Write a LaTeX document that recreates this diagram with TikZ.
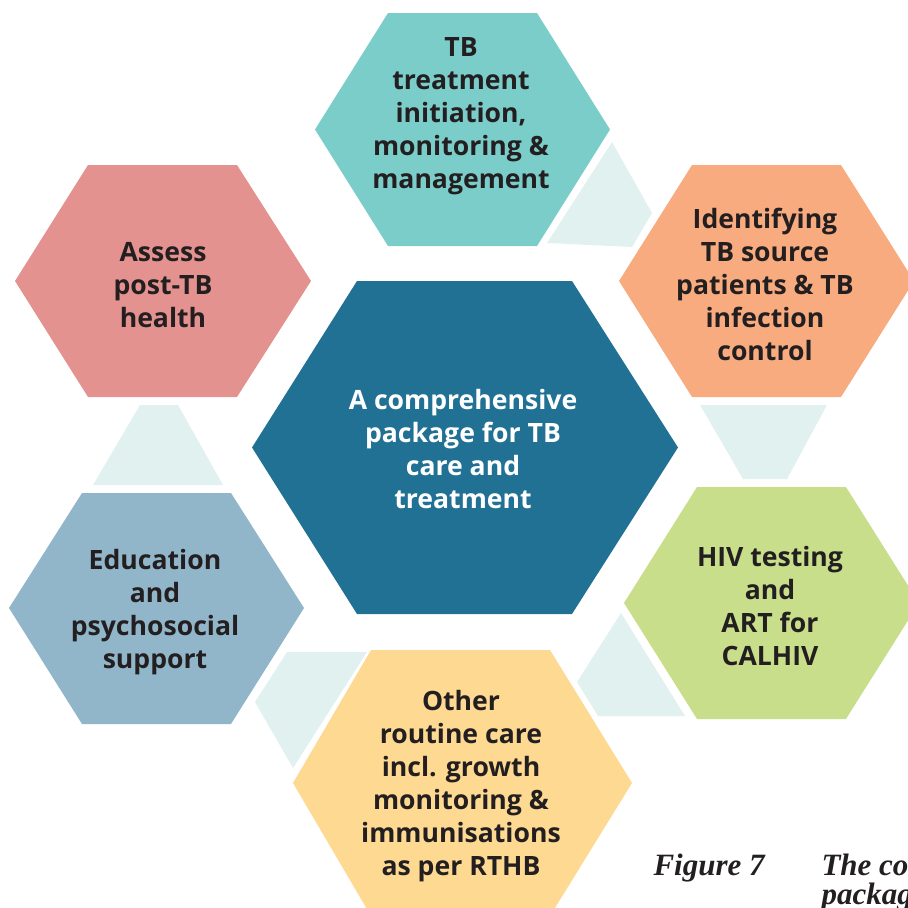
\documentclass[tikz,border=0pt]{standalone}
\usepackage{fontspec}
\newfontfamily\hexfont{Open Sans}
\newfontfamily\capfont{Liberation Serif}

\definecolor{tealhex}{HTML}{7BCDC9}
\definecolor{orangehex}{HTML}{F7AB7F}
\definecolor{greenhex}{HTML}{C9DE8A}
\definecolor{yellowhex}{HTML}{FDD992}
\definecolor{bluehex}{HTML}{91B6CA}
\definecolor{pinkhex}{HTML}{E4928F}
\definecolor{centerhex}{HTML}{217195}
\definecolor{linkfill}{HTML}{E0F1F0}
\definecolor{darktext}{HTML}{231F20}

\begin{document}
\begin{tikzpicture}[x=1pt,y=-1pt]
\tikzset{hextext/.style={align=center,text=darktext,font=\hexfont\bfseries\fontsize{26.6}{33}\selectfont}}
\tikzset{centertext/.style={hextext,text=white}}
\tikzset{captext/.style={anchor=base west,text=darktext,font=\capfont\bfseries\itshape\fontsize{31}{31}\selectfont}}
\useasboundingbox (0,0) rectangle (908,908);
% links between the outer hexagons
\fill[linkfill] (612,142) -- (652,213) -- (632,247) -- (547,243) -- cycle;
\fill[linkfill] (700,405) -- (827,405) -- (787,479) -- (743,479) -- cycle;
\fill[linkfill] (621,613) -- (685,716) -- (598,716) -- (577,682) -- cycle;
\fill[linkfill] (287,652) -- (367,652) -- (293,768) -- (255,702) -- cycle;
\fill[linkfill] (140,405) -- (178,405) -- (223,485) -- (93,485) -- cycle;
% hexagons
\fill[tealhex] (315,129.5) -- (388,13) -- (537,13) -- (610,129.5) -- (537,246) -- (388,246) -- cycle;
\fill[pinkhex] (15,281) -- (88,165) -- (237,165) -- (311,281) -- (237,397) -- (88,397) -- cycle;
\fill[orangehex] (619,281) -- (692,165) -- (841,165) -- (914,281) -- (841,397) -- (692,397) -- cycle;
\fill[greenhex] (624,603) -- (697,487) -- (846,487) -- (919,603) -- (846,719) -- (697,719) -- cycle;
\fill[bluehex] (9,608) -- (82,493) -- (231,493) -- (304,608) -- (231,724) -- (82,724) -- cycle;
\fill[yellowhex] (293,783) -- (371,650) -- (550,650) -- (632,783) -- (550,916) -- (371,916) -- cycle;
\fill[centerhex] (252,447.5) -- (357,281) -- (572,281) -- (678,447.5) -- (572,614) -- (357,614) -- cycle;
% texts
\node[centertext] (package) at (463,449) {A comprehensive\\package for TB\\care and\\treatment};
\node[hextext] (treatment) at (461,116) {TB\\treatment\\initiation,\\monitoring \&\\management};
\node[hextext] (source) at (765,284) {Identifying\\TB source\\patients \& TB\\infection\\control};
\node[hextext] (hiv) at (770,606) {HIV testing\\and\\ART for\\CALHIV};
\node[hextext] (routine) at (461,786) {Other\\routine care\\incl. growth\\monitoring \&\\immunisations\\as per RTHB};
\node[hextext] (education) at (155,612) {Education\\and\\psychosocial\\support};
\node[hextext] (posttb) at (163,285) {Assess\\post-TB\\health};
% caption
\node[captext] (figno) at (650,875) {Figure 7};
\node[captext] (captitle) at (818,875) {The co};
\node[captext] (capsecond) at (818,904) {packag};
\end{tikzpicture}
\end{document}
